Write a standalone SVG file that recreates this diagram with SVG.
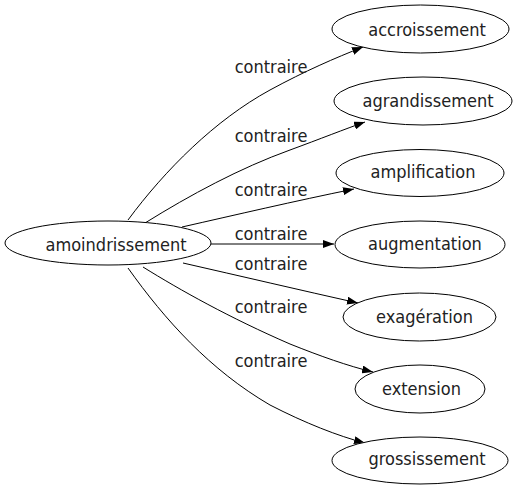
<svg xmlns="http://www.w3.org/2000/svg" width="520" height="491" viewBox="0 0 520 491">
<defs>
<style>
.node ellipse{fill:#fff;stroke:#000;stroke-width:1}
.node text{font-family:"DejaVu Sans Condensed","DejaVu Sans",sans-serif;font-stretch:condensed;font-size:18px;fill:#222;text-anchor:middle}
.edges path{fill:none;stroke:#000;stroke-width:1}
.lbl{font-family:"DejaVu Sans Condensed","DejaVu Sans",sans-serif;font-stretch:condensed;font-size:18px;fill:#222;text-anchor:middle}
</style>
<marker id="arr" markerUnits="userSpaceOnUse" markerWidth="11" markerHeight="8" refX="11" refY="4" orient="auto">
<path d="M0,0 L11,4 L0,8 z" fill="#000"/>
</marker>
</defs>
<rect width="520" height="491" fill="#fff"/>
<g id="edges" class="edges">
<path marker-end="url(#arr)" d="M128,220 C165,170 215,120 270,90 C305,71 335,58 363,47"/>
<path marker-end="url(#arr)" d="M145,223 C190,195 240,168 290,150 C320,139 345,129 365,122"/>
<path marker-end="url(#arr)" d="M182,227 C235,215 295,201 354,189"/>
<path marker-end="url(#arr)" d="M211,244 L334,244"/>
<path marker-end="url(#arr)" d="M183,263 C240,276 300,290 358,303"/>
<path marker-end="url(#arr)" d="M143,267 C180,290 230,318 290,344 C320,356 348,366 373,372"/>
<path marker-end="url(#arr)" d="M128,268 C165,320 210,370 270,405 C305,423 338,436 365,443"/>
<text class="lbl" x="271" y="73">contraire</text>
<text class="lbl" x="271" y="142">contraire</text>
<text class="lbl" x="271" y="196">contraire</text>
<text class="lbl" x="271" y="240">contraire</text>
<text class="lbl" x="271" y="270">contraire</text>
<text class="lbl" x="271" y="313">contraire</text>
<text class="lbl" x="271" y="367">contraire</text>
</g>
<g id="amoindrissement" class="node"><ellipse cx="108" cy="243" rx="103" ry="22"/><text x="116" y="251">amoindrissement</text></g>
<g id="accroissement" class="node"><ellipse cx="420.5" cy="29" rx="88.5" ry="24"/><text x="427" y="36">accroissement</text></g>
<g id="agrandissement" class="node"><ellipse cx="423" cy="101" rx="89" ry="24"/><text x="428" y="107">agrandissement</text></g>
<g id="amplification" class="node"><ellipse cx="420" cy="173" rx="84" ry="23.5"/><text x="423" y="178">amplification</text></g>
<g id="augmentation" class="node"><ellipse cx="420" cy="244.5" rx="85" ry="23.5"/><text x="425" y="250">augmentation</text></g>
<g id="exageration" class="node"><ellipse cx="419.5" cy="317" rx="76.5" ry="24"/><text x="424.5" y="322.5">exagération</text></g>
<g id="extension" class="node"><ellipse cx="420" cy="389" rx="65" ry="24"/><text x="421.5" y="395">extension</text></g>
<g id="grossissement" class="node"><ellipse cx="420" cy="460.5" rx="88" ry="23.5"/><text x="427" y="465">grossissement</text></g>
</svg>
